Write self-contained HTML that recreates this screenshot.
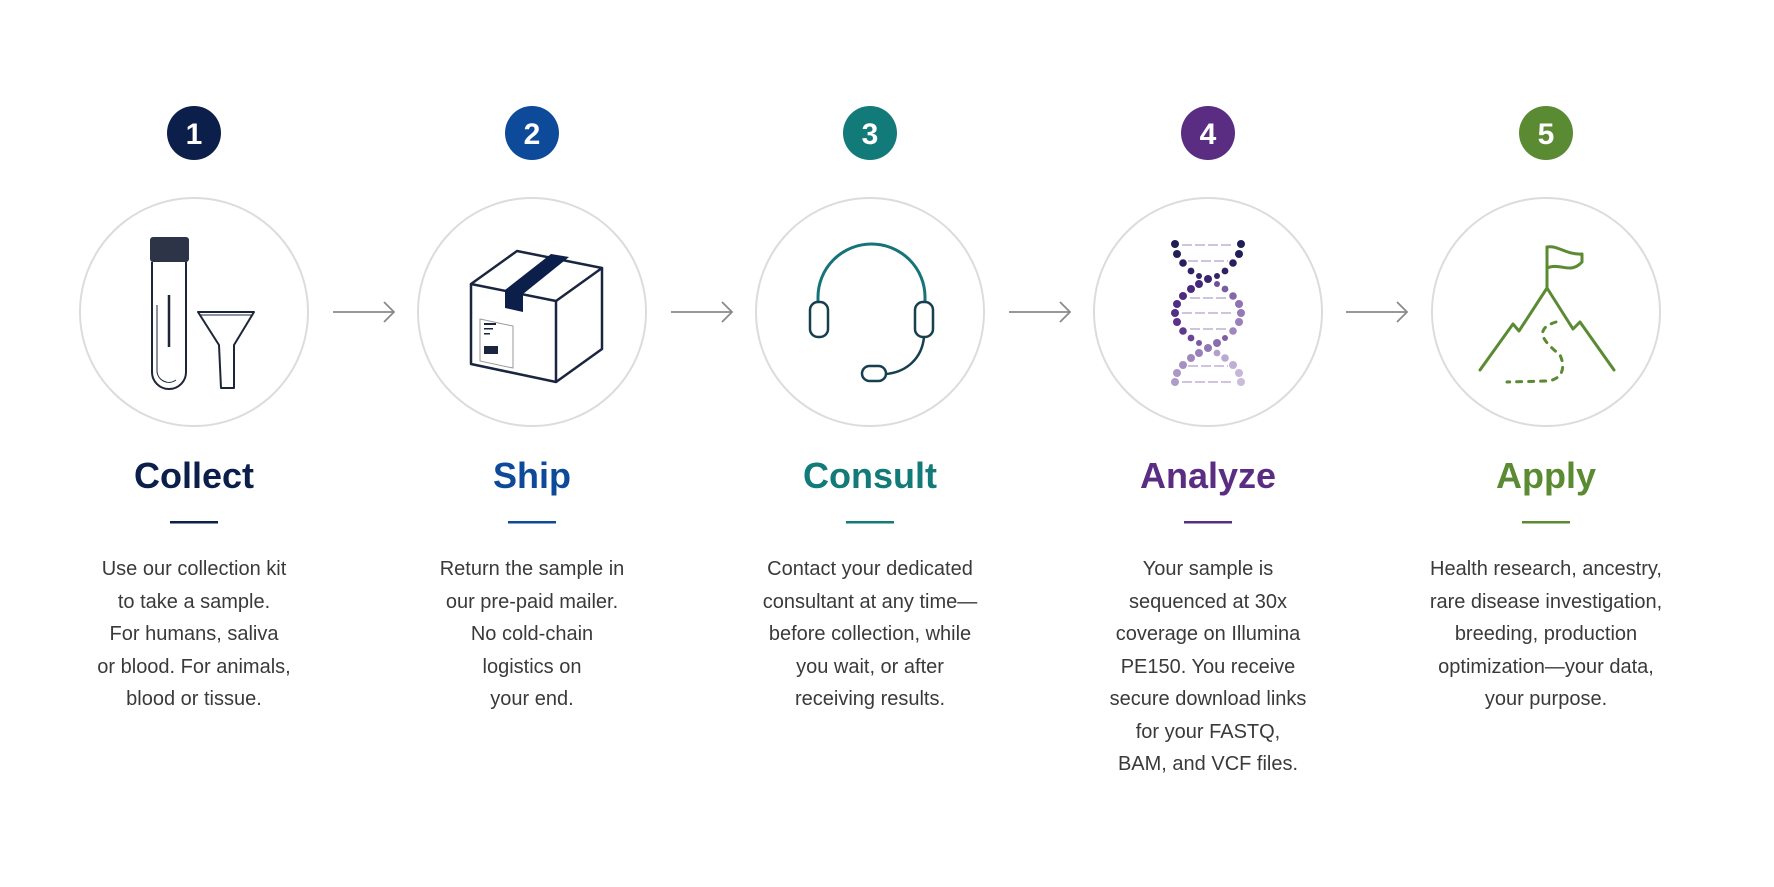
<!DOCTYPE html>
<html><head><meta charset="utf-8"><style>
html,body{margin:0;padding:0;background:#fff;}
svg{display:block;}
.t{font-family:"Liberation Sans",sans-serif;font-weight:bold;font-size:36px;text-anchor:middle;}
.b{font-family:"Liberation Sans",sans-serif;font-size:20px;fill:#3a3a3a;text-anchor:middle;}
.n{font-family:"Liberation Sans",sans-serif;font-weight:bold;font-size:30px;fill:#fff;text-anchor:middle;}
</style></head><body>
<svg width="1774" height="887" viewBox="0 0 1774 887" xmlns="http://www.w3.org/2000/svg">
<!-- badges -->
<circle cx="194" cy="133" r="27" fill="#0c1f4a"/><text class="n" x="194" y="144">1</text>
<circle cx="532" cy="133" r="27" fill="#0d4a9a"/><text class="n" x="532" y="144">2</text>
<circle cx="870" cy="133" r="27" fill="#137a7a"/><text class="n" x="870" y="144">3</text>
<circle cx="1208" cy="133" r="27" fill="#5a2d82"/><text class="n" x="1208" y="144">4</text>
<circle cx="1546" cy="133" r="27" fill="#5a8a32"/><text class="n" x="1546" y="144">5</text>
<!-- big circles -->
<g fill="none" stroke="#dcdcdc" stroke-width="2">
<circle cx="194" cy="312" r="114"/><circle cx="532" cy="312" r="114"/><circle cx="870" cy="312" r="114"/><circle cx="1208" cy="312" r="114"/><circle cx="1546" cy="312" r="114"/>
</g>
<!-- arrows -->
<g fill="none" stroke="#8a8a8a" stroke-width="1.8">
<path d="M333 312H394M384 302L394 312L384 322"/>
<path d="M671 312H732M722 302L732 312L722 322"/>
<path d="M1009 312H1070M1060 302L1070 312L1060 322"/>
<path d="M1346 312H1407M1397 302L1407 312L1397 322"/>
</g>
<!-- tube & funnel -->
<rect x="150" y="237" width="39" height="25" rx="3" fill="#2d3447"/>
<path d="M152 262V372A17 17 0 0 0 186 372V262" fill="none" stroke="#1d2538" stroke-width="2"/>
<path d="M157 305V372A12 12 0 0 0 176 380" fill="none" stroke="#1d2538" stroke-width="1"/>
<line x1="169" y1="295" x2="169" y2="347" stroke="#1d2538" stroke-width="2.5"/>
<path d="M198 312H254L234 345V388H221L219 345Z" fill="none" stroke="#1d2538" stroke-width="2" stroke-linejoin="round"/>
<line x1="200" y1="315" x2="252" y2="315" stroke="#1d2538" stroke-width="1"/>
<!-- box -->
<g fill="none" stroke="#1a2540" stroke-width="2.5" stroke-linejoin="round">
<path d="M471 284L556 301L602 268L517 251Z"/>
<path d="M471 284V364L556 382V301"/>
<path d="M556 382L602 349V268"/>
</g>
<path d="M505 290L523 294L569 257L551 254Z" fill="#0c1f4a"/>
<path d="M505 290L523 294V312L505 308Z" fill="#0c1f4a"/>
<rect x="480" y="320" width="33" height="42" fill="none" stroke="#999" stroke-width="1" transform="skewY(12) translate(0,-103)"/>
<g fill="#1a2540"><rect x="484" y="323" width="12" height="2"/><rect x="484" y="328" width="9" height="1.5"/><rect x="484" y="333" width="6" height="1.5"/><rect x="484" y="346" width="14" height="8"/></g>
<!-- headset -->
<path d="M818 302V297A53.5 53 0 0 1 925 297V302" fill="none" stroke="#167479" stroke-width="3"/>
<rect x="810" y="302" width="18" height="35" rx="8" fill="none" stroke="#173f4f" stroke-width="2.5"/>
<rect x="915" y="302" width="18" height="35" rx="8" fill="none" stroke="#173f4f" stroke-width="2.5"/>
<path d="M924 337C922 358 907 372 886 374" fill="none" stroke="#173f4f" stroke-width="2.5"/>
<rect x="862" y="366" width="24" height="15" rx="7.5" fill="none" stroke="#173f4f" stroke-width="2.5"/>
<!-- DNA -->
<g id="dna"></g>
<g stroke="#cfc3e0" stroke-width="2" stroke-dasharray="10 3">
<line x1="1182" y1="245" x2="1234" y2="245"/><line x1="1188" y1="261" x2="1228" y2="261"/>
<line x1="1190" y1="298" x2="1226" y2="298"/><line x1="1182" y1="313" x2="1234" y2="313"/>
<line x1="1190" y1="329" x2="1226" y2="329"/><line x1="1188" y1="366" x2="1228" y2="366"/>
<line x1="1182" y1="382" x2="1234" y2="382"/>
</g>
<g>
<circle cx="1175" cy="244" r="4" fill="#1f1f55"/><circle cx="1241" cy="244" r="4" fill="#1f1f55"/>
<circle cx="1177" cy="254" r="4" fill="#221f58"/><circle cx="1239" cy="254" r="4" fill="#221f58"/>
<circle cx="1183" cy="263" r="3.8" fill="#28205e"/><circle cx="1233" cy="263" r="3.8" fill="#28205e"/>
<circle cx="1191" cy="271" r="3.4" fill="#2f2163"/><circle cx="1225" cy="271" r="3.4" fill="#2f2163"/>
<circle cx="1199" cy="276" r="3" fill="#352268"/><circle cx="1217" cy="276" r="3" fill="#352268"/>
<circle cx="1208" cy="279" r="4" fill="#3d2470"/>
<circle cx="1199" cy="284" r="4" fill="#45287a"/><circle cx="1217" cy="284" r="3" fill="#6e4f98"/>
<circle cx="1191" cy="289" r="4" fill="#4a2a7e"/><circle cx="1225" cy="289" r="3.4" fill="#7a5ca2"/>
<circle cx="1183" cy="296" r="4" fill="#4d2b80"/><circle cx="1233" cy="296" r="3.8" fill="#8667ab"/>
<circle cx="1177" cy="304" r="4" fill="#512d84"/><circle cx="1239" cy="304" r="4" fill="#8f72b2"/>
<circle cx="1175" cy="313" r="4" fill="#542f86"/><circle cx="1241" cy="313" r="4" fill="#9579b6"/>
<circle cx="1177" cy="322" r="4" fill="#5a3289"/><circle cx="1239" cy="322" r="4" fill="#9a80b9"/>
<circle cx="1183" cy="331" r="3.8" fill="#60388e"/><circle cx="1233" cy="331" r="3.8" fill="#9f86bc"/>
<circle cx="1191" cy="338" r="3.4" fill="#6a4596"/><circle cx="1225" cy="338" r="3" fill="#7d5fa4"/>
<circle cx="1199" cy="343" r="3" fill="#7a5aa2"/><circle cx="1217" cy="343" r="4" fill="#8a6daf"/>
<circle cx="1208" cy="348" r="4" fill="#9078b3"/>
<circle cx="1199" cy="353" r="4" fill="#9a80b9"/><circle cx="1217" cy="353" r="3.4" fill="#b29fcb"/>
<circle cx="1191" cy="358" r="4" fill="#a088bd"/><circle cx="1225" cy="358" r="3.8" fill="#baa8d0"/>
<circle cx="1183" cy="365" r="4" fill="#a690c1"/><circle cx="1233" cy="365" r="4" fill="#c0afd4"/>
<circle cx="1177" cy="373" r="4" fill="#ac97c6"/><circle cx="1239" cy="373" r="4" fill="#c6b6d9"/>
<circle cx="1175" cy="382" r="4" fill="#b09cc9"/><circle cx="1241" cy="382" r="4" fill="#cbbcdc"/>
</g>
<!-- mountain -->
<g fill="none" stroke="#5a8a32" stroke-width="3" stroke-linejoin="round" stroke-linecap="round">
<path d="M1480 370L1513 324L1519 331L1547 288L1573 329L1580 322L1614 370"/>
<path d="M1547 288V247"/>
<path d="M1547 247C1558 245 1566 255 1582 254V262C1570 275 1560 262 1547 268"/>
<path d="M1556 322C1530 330 1548 345 1560 355C1566 368 1562 379 1548 381L1507 382" stroke-dasharray="5 7"/>
</g>
<!-- titles -->
<text class="t" x="194" y="488" fill="#0c1f4a">Collect</text>
<text class="t" x="532" y="488" fill="#0d4a9a">Ship</text>
<text class="t" x="870" y="488" fill="#137a7a">Consult</text>
<text class="t" x="1208" y="488" fill="#5a2d82">Analyze</text>
<text class="t" x="1546" y="488" fill="#5a8a32">Apply</text>
<rect x="170" y="521" width="48" height="2.5" fill="#0c1f4a"/>
<rect x="508" y="521" width="48" height="2.5" fill="#0d4a9a"/>
<rect x="846" y="521" width="48" height="2.5" fill="#137a7a"/>
<rect x="1184" y="521" width="48" height="2.5" fill="#5a2d82"/>
<rect x="1522" y="521" width="48" height="2.5" fill="#5a8a32"/>
<!-- bodies -->
<g class="b">
<text class="b" x="194" y="575">Use our collection kit</text>
<text class="b" x="194" y="608">to take a sample.</text>
<text class="b" x="194" y="640">For humans, saliva</text>
<text class="b" x="194" y="673">or blood. For animals,</text>
<text class="b" x="194" y="705">blood or tissue.</text>
<text class="b" x="532" y="575">Return the sample in</text>
<text class="b" x="532" y="608">our pre-paid mailer.</text>
<text class="b" x="532" y="640">No cold-chain</text>
<text class="b" x="532" y="673">logistics on</text>
<text class="b" x="532" y="705">your end.</text>
<text class="b" x="870" y="575">Contact your dedicated</text>
<text class="b" x="870" y="608">consultant at any time—</text>
<text class="b" x="870" y="640">before collection, while</text>
<text class="b" x="870" y="673">you wait, or after</text>
<text class="b" x="870" y="705">receiving results.</text>
<text class="b" x="1208" y="575">Your sample is</text>
<text class="b" x="1208" y="608">sequenced at 30x</text>
<text class="b" x="1208" y="640">coverage on Illumina</text>
<text class="b" x="1208" y="673">PE150. You receive</text>
<text class="b" x="1208" y="705">secure download links</text>
<text class="b" x="1208" y="738">for your FASTQ,</text>
<text class="b" x="1208" y="770">BAM, and VCF files.</text>
<text class="b" x="1546" y="575">Health research, ancestry,</text>
<text class="b" x="1546" y="608">rare disease investigation,</text>
<text class="b" x="1546" y="640">breeding, production</text>
<text class="b" x="1546" y="673">optimization—your data,</text>
<text class="b" x="1546" y="705">your purpose.</text>
</g>
</svg>
</body></html>
